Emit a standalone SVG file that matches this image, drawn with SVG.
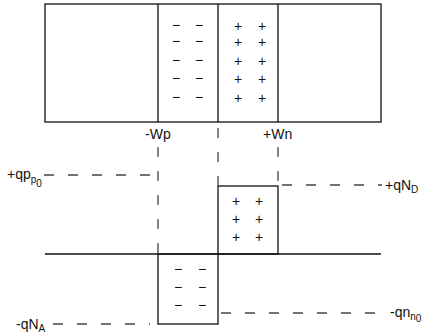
<svg xmlns="http://www.w3.org/2000/svg" width="428" height="336" viewBox="0 0 428 336">
<style>
.s{stroke:#111;stroke-width:1.3;fill:none}
.d{stroke:#444;stroke-width:1.3;fill:none;stroke-dasharray:10 14}
.t{font-family:"Liberation Sans",Arial,sans-serif;font-size:14px;fill:#111}
.sub{font-size:10px}
.c{font-family:"Liberation Sans",Arial,sans-serif;font-size:14px;fill:#111;text-anchor:middle}
</style>
<rect width="428" height="336" fill="#fff"/>
<g id="device">
<rect class="s" x="45" y="4" width="336" height="118"/>
<line class="s" x1="158" y1="4" x2="158" y2="122"/>
<line class="s" x1="218" y1="4" x2="218" y2="122"/>
<line class="s" x1="278" y1="4" x2="278" y2="122"/>
<g class="c">
<text x="176" y="30">−</text><text x="199" y="30">−</text>
<text x="176" y="46">−</text><text x="199" y="46">−</text>
<text x="176" y="65">−</text><text x="199" y="65">−</text>
<text x="176" y="83">−</text><text x="199" y="83">−</text>
<text x="176" y="102">−</text><text x="199" y="102">−</text>
<text x="238" y="31">+</text><text x="262" y="31">+</text>
<text x="238" y="47">+</text><text x="262" y="47">+</text>
<text x="238" y="66">+</text><text x="262" y="66">+</text>
<text x="238" y="84">+</text><text x="262" y="84">+</text>
<text x="238" y="103">+</text><text x="262" y="103">+</text>
</g>
</g>
<g id="labels">
<text class="t" x="145" y="139">-Wp</text>
<text class="t" x="263" y="139">+Wn</text>
<text class="t" x="7" y="179">+qp<tspan class="sub" dy="4">p</tspan><tspan class="sub" dy="4" font-size="8px">0</tspan></text>
<text class="t" x="385" y="190">+qN<tspan class="sub" dy="3">D</tspan></text>
<text class="t" x="16" y="329">-qN<tspan class="sub" dy="3">A</tspan></text>
<text class="t" x="390" y="317">-qn<tspan class="sub" dy="3">n</tspan><tspan class="sub" dy="2" font-size="8px">0</tspan></text>
</g>
<g id="n-charge">
<rect class="s" x="218" y="186" width="60" height="68"/>
<g class="c">
<text x="236" y="206">+</text><text x="259" y="206">+</text>
<text x="236" y="224">+</text><text x="259" y="224">+</text>
<text x="236" y="242">+</text><text x="259" y="242">+</text>
</g>
</g>
<g id="p-charge">
<rect class="s" x="158" y="254" width="60" height="70"/>
<g class="c">
<text x="178" y="274">−</text><text x="202" y="274">−</text>
<text x="178" y="292">−</text><text x="202" y="292">−</text>
<text x="178" y="310">−</text><text x="202" y="310">−</text>
</g>
</g>
<g id="connectors">
<line class="s" x1="45" y1="254" x2="381" y2="254"/>
<line class="d" x1="158" y1="147" x2="158" y2="254"/>
<line class="d" x1="218" y1="128" x2="218" y2="186"/>
<line class="d" x1="278" y1="147" x2="278" y2="186"/>
<line class="d" x1="44" y1="175" x2="152" y2="175"/>
<line class="d" x1="282" y1="185" x2="382" y2="185"/>
<line class="d" x1="53" y1="324" x2="150" y2="324"/>
<line class="d" x1="221" y1="313" x2="384" y2="313"/>
</g>
</svg>
